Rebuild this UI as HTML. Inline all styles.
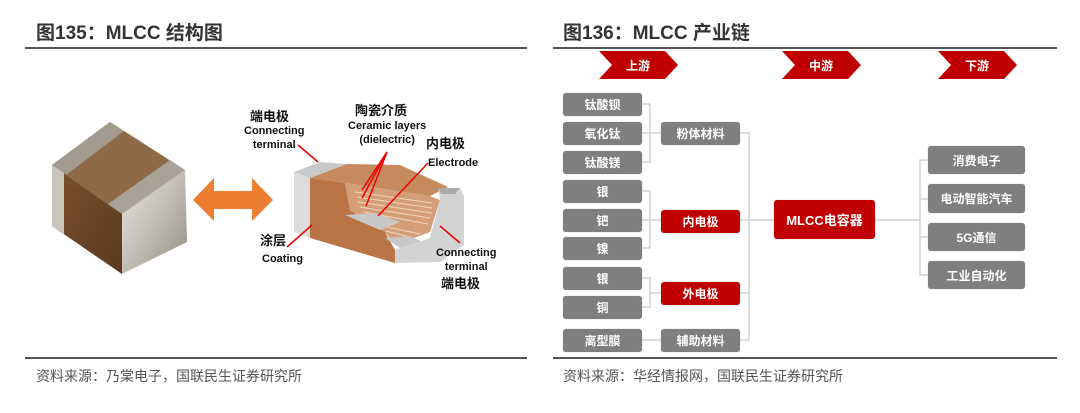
<!DOCTYPE html>
<html><head><meta charset="utf-8"><style>
body{margin:0;width:1080px;height:413px;background:#fff;position:relative;overflow:hidden;font-family:"Liberation Sans","Noto Sans CJK SC",sans-serif}
.t{position:absolute;font-weight:bold;font-size:19px;color:#333;top:22px;line-height:24px}
.hl{position:absolute;height:2px;background:#555}
.src{position:absolute;top:366px;font-size:14px;color:#555}
.b{position:absolute;background:#7f7f7f;color:#fff;font-weight:bold;font-size:12px;display:flex;align-items:center;justify-content:center;border-radius:3px;box-shadow:0 0 1px #aaa}
.r{background:#c00000}
.lab{position:absolute;font-size:11px;font-weight:bold;color:#111;text-align:center;line-height:14px}
</style></head><body>
<div class="t" style="left:36px">图135：MLCC 结构图</div>
<div class="hl" style="left:25px;width:502px;top:47px"></div>
<div class="hl" style="left:25px;width:502px;top:357px"></div>
<div class="src" style="left:36px">资料来源：乃棠电子，国联民生证券研究所</div>

<div class="t" style="left:563px">图136：MLCC 产业链</div>
<div class="hl" style="left:553px;width:504px;top:47px"></div>
<div class="hl" style="left:553px;width:504px;top:357px"></div>
<div class="src" style="left:563px">资料来源：华经情报网，国联民生证券研究所</div>

<svg style="position:absolute;left:0;top:0" width="540" height="413">
<defs>
<linearGradient id="me" x1="0" y1="0" x2="1" y2="1"><stop offset="0" stop-color="#e8e6e0"/><stop offset="0.5" stop-color="#c2beb5"/><stop offset="1" stop-color="#8f8b83"/></linearGradient>
<linearGradient id="br" x1="0" y1="0" x2="1" y2="1"><stop offset="0" stop-color="#7d5230"/><stop offset="1" stop-color="#5a381d"/></linearGradient>
</defs>
<!-- chip cube: A(52,165) B(110,122) C(185,170) D(122,214) -->
<polygon points="52,165 110,122 185,170 122,214" fill="#8e6a48"/>
<polygon points="52,165 110,122 124,131 66,175" fill="#a39b8e"/>
<polygon points="108,204 170,160 185,170 122,214" fill="#a9a397"/>
<polygon points="52,165 122,214 122,274 52,226" fill="url(#br)"/>
<polygon points="52,165 64,173 64,234 52,226" fill="#c9c5bc"/>
<polygon points="122,214 185,170 187,242 122,274" fill="url(#me)"/>
<!-- orange arrow -->
<polygon points="193,200 214,178 214,191 252,191 252,178 273,200 252,221 252,209 214,209 214,221" fill="#ed7d31"/>
<!-- cutaway -->
<polygon points="294,172 320,162 347,164 310,178" fill="#c9c9c9"/>
<polygon points="294,172 310,178 310,238 294,232" fill="#dcdcdc"/>
<polygon points="310,178 347,164 400,165 448,187 430,196 345,183" fill="#c58a5e"/>
<polygon points="310,178 345,183 350,210 385,232 395,250 395,263 310,238" fill="#b97345"/>
<polygon points="345,183 430,196 440,200 430,232 395,245 385,232 350,210" fill="#d49f78"/>
<g stroke="#f3d6c0" stroke-width="1">
<line x1="355" y1="192" x2="432" y2="203"/><line x1="357" y1="197" x2="432" y2="208"/><line x1="358" y1="202" x2="432" y2="213"/><line x1="360" y1="207" x2="430" y2="218"/><line x1="364" y1="212" x2="428" y2="224"/><line x1="382" y1="226" x2="420" y2="234"/><line x1="386" y1="231" x2="414" y2="238"/>
</g>
<polygon points="345,215 375,213 400,222 380,230" fill="#c8c8c8"/>
<polygon points="385,238 410,236 425,243 400,248" fill="#c8c8c8"/>
<polygon points="438,188 460,188 464,196 464,245 440,262 395,263 395,250 430,238 440,200" fill="#d3d3d3"/>
<polygon points="438,188 460,188 455,194 441,194" fill="#a9a9a9"/>
<g stroke="#e00" stroke-width="1.5" fill="none">
<line x1="298" y1="145" x2="318" y2="162"/>
<line x1="387" y1="152" x2="362" y2="190"/><line x1="387" y1="152" x2="362" y2="198"/><line x1="387" y1="152" x2="366" y2="206"/>
<line x1="428" y1="163" x2="378" y2="216"/>
<line x1="287" y1="247" x2="312" y2="225"/>
<line x1="460" y1="243" x2="440" y2="226"/>
</g>
</svg>
<div class="lab" style="left:250px;top:110px;font-size:13px">端电极</div>
<div class="lab" style="left:244px;top:124px">Connecting<br>terminal</div>
<div class="lab" style="left:355px;top:104px;font-size:13px">陶瓷介质</div>
<div class="lab" style="left:348px;top:119px">Ceramic layers<br>(dielectric)</div>
<div class="lab" style="left:426px;top:137px;font-size:13px">内电极</div>
<div class="lab" style="left:428px;top:156px">Electrode</div>
<div class="lab" style="left:260px;top:234px;font-size:13px">涂层</div>
<div class="lab" style="left:262px;top:252px">Coating</div>
<div class="lab" style="left:436px;top:246px">Connecting<br>terminal</div>
<div class="lab" style="left:441px;top:277px;font-size:13px">端电极</div>

<svg style="position:absolute;left:0;top:0" width="1080" height="413">
<polygon points="599,51 665,51 678,65 665,79 599,79 612,65" fill="#c00000"/>
<polygon points="782,51 848,51 861,65 848,79 782,79 795,65" fill="#c00000"/>
<polygon points="938,51 1004,51 1017,65 1004,79 938,79 951,65" fill="#c00000"/>
<text x="638" y="70" fill="#fff" font-size="12" font-weight="bold" text-anchor="middle" font-family="Liberation Sans,Noto Sans CJK SC,sans-serif">上游</text>
<text x="821" y="70" fill="#fff" font-size="12" font-weight="bold" text-anchor="middle" font-family="Liberation Sans,Noto Sans CJK SC,sans-serif">中游</text>
<text x="977" y="70" fill="#fff" font-size="12" font-weight="bold" text-anchor="middle" font-family="Liberation Sans,Noto Sans CJK SC,sans-serif">下游</text>
<g stroke="#d0d0d0" stroke-width="1.5" fill="none">
<polyline points="642,104 650,104 650,162 642,162"/><line x1="642" y1="133" x2="661" y2="133"/>
<polyline points="642,191 650,191 650,248 642,248"/><line x1="642" y1="220" x2="661" y2="220"/>
<polyline points="642,278 650,278 650,307 642,307"/><line x1="650" y1="293" x2="661" y2="293"/>
<line x1="642" y1="340" x2="661" y2="340"/>
<polyline points="740,133 749,133 749,340 740,340"/><line x1="740" y1="293" x2="749" y2="293"/><line x1="740" y1="220" x2="774" y2="220"/>
<line x1="875" y1="220" x2="920" y2="220"/>
<polyline points="928,160 920,160 920,275 928,275"/><line x1="920" y1="199" x2="928" y2="199"/><line x1="920" y1="237" x2="928" y2="237"/>
</g>
</svg>
<div class="b" style="left:563px;top:93px;width:79px;height:23px">钛酸钡</div>
<div class="b" style="left:563px;top:122px;width:79px;height:23px">氧化钛</div>
<div class="b" style="left:563px;top:151px;width:79px;height:23px">钛酸镁</div>
<div class="b" style="left:563px;top:180px;width:79px;height:23px">银</div>
<div class="b" style="left:563px;top:209px;width:79px;height:23px">钯</div>
<div class="b" style="left:563px;top:237px;width:79px;height:23px">镍</div>
<div class="b" style="left:563px;top:267px;width:79px;height:23px">银</div>
<div class="b" style="left:563px;top:296px;width:79px;height:23px">铜</div>
<div class="b" style="left:563px;top:329px;width:79px;height:23px">离型膜</div>
<div class="b" style="left:661px;top:122px;width:79px;height:23px">粉体材料</div>
<div class="b r" style="left:661px;top:210px;width:79px;height:23px">内电极</div>
<div class="b r" style="left:661px;top:282px;width:79px;height:23px">外电极</div>
<div class="b" style="left:661px;top:329px;width:79px;height:23px">辅助材料</div>
<div class="b r" style="left:774px;top:200px;width:101px;height:39px;font-size:13px">MLCC电容器</div>
<div class="b" style="left:928px;top:146px;width:97px;height:28px">消费电子</div>
<div class="b" style="left:928px;top:184px;width:97px;height:29px">电动智能汽车</div>
<div class="b" style="left:928px;top:223px;width:97px;height:28px">5G通信</div>
<div class="b" style="left:928px;top:261px;width:97px;height:28px">工业自动化</div>
</body></html>
